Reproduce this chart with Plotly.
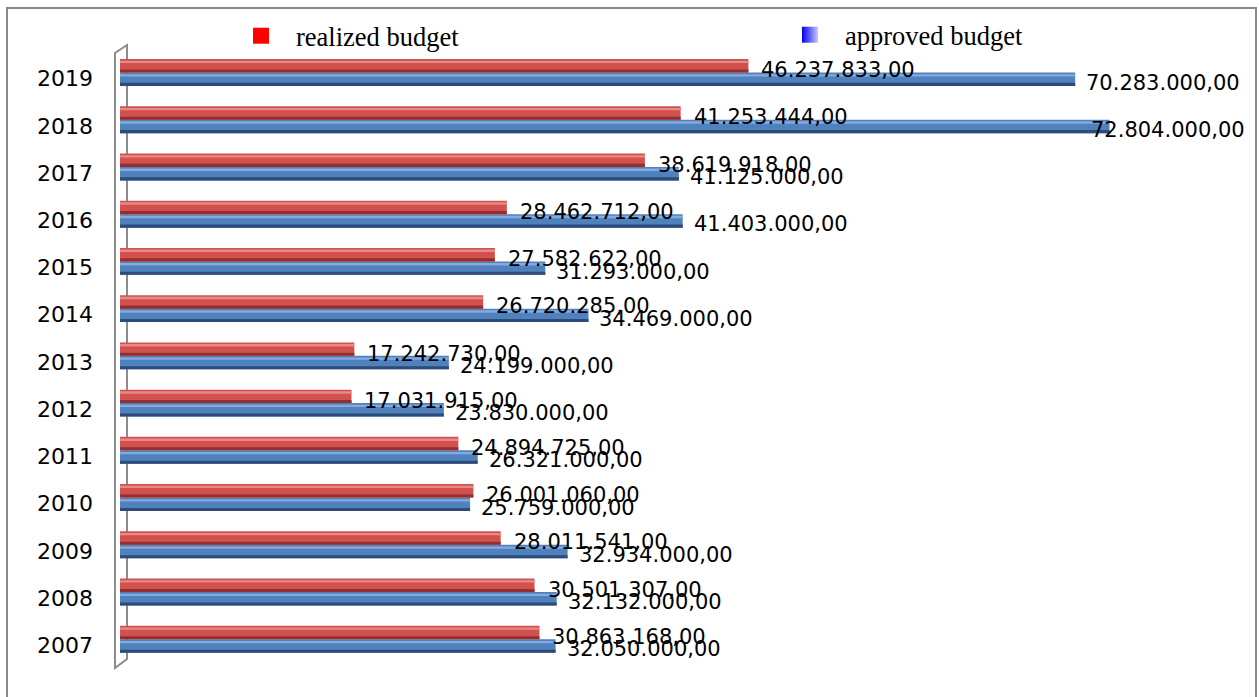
import plotly.graph_objects as go

years = ['2007', '2008', '2009', '2010', '2011', '2012', '2013',
         '2014', '2015', '2016', '2017', '2018', '2019']
realized = [30863168, 30501307, 28011541, 26001060, 24894725, 17031915, 17242730,
            26720285, 27582622, 28462712, 38619918, 41253444, 46237833]
approved = [32050000, 32132000, 32934000, 25759000, 26321000, 23830000, 24199000,
            34469000, 31293000, 41403000, 41125000, 72804000, 70283000]
series_names = ['realized budget', 'approved budget']


def eu(v):
    s = f"{v:,.2f}"
    return s.replace(',', 'X').replace('.', ',').replace('X', '.')


W, H = 1259, 697
ML, MR, MT, MB = 120, 11, 55, 28
PW = W - ML - MR
XMAX = 83.0e6

BW = 0.285
RED_OFF = 0.13
BLUE_OFF = -0.155

red = dict(main='#D2504D', light='#E58A87', dark='#93302E')
blue = dict(main='#4F81BD', light='#86AADD', dark='#2C4B78')

fig = go.Figure()


def add_series(vals, off, col):
    fig.add_trace(go.Bar(x=vals, y=years, orientation='h', offset=off, width=BW,
                         marker=dict(color=col['main'], line=dict(width=0)),
                         showlegend=False, hoverinfo='skip'))
    fig.add_trace(go.Bar(x=vals, y=years, orientation='h', offset=off + BW - 0.085, width=0.05,
                         marker=dict(color=col['light'], line=dict(width=0)),
                         showlegend=False, hoverinfo='skip'))
    fig.add_trace(go.Bar(x=vals, y=years, orientation='h', offset=off, width=0.065,
                         marker=dict(color=col['dark'], line=dict(width=0)),
                         showlegend=False, hoverinfo='skip'))


add_series(approved, BLUE_OFF, blue)
add_series(realized, RED_OFF, red)

# legend entries
fig.add_trace(go.Scatter(x=[None], y=[None], mode='markers', name=series_names[0],
                         marker=dict(symbol='square', size=16, color='#FF0000'),
                         legend='legend'))
fig.add_trace(go.Scatter(x=[None], y=[None], mode='markers', name=series_names[1],
                         marker=dict(symbol='square', size=16, color='#0000F0',
                                     gradient=dict(type='horizontal', color='#C8C8FF')),
                         legend='legend2'))

# data labels (y given as category index)
LABEL_W = 154
annotations = []
for vals, ysh, xsh in ((approved, -4, 9), (realized, 8.5, 11)):
    for i, v in enumerate(vals):
        end_px = v / XMAX * PW
        common = dict(y=i, xref='x', yref='y', text=eu(v), showarrow=False,
                      yanchor='middle', yshift=ysh,
                      font=dict(family='DejaVu Sans', size=21, color='#000000'))
        if end_px + xsh + LABEL_W > PW:
            annotations.append(dict(x=XMAX, xanchor='right', xshift=-1, **common))
        else:
            annotations.append(dict(x=v, xanchor='left', xshift=xsh, **common))


def px_x(p):
    return (p - ML) / PW


def px_y(p):
    return (H - MB - p) / (H - MT - MB)


shapes = [
    # 3D wall at the left
    dict(type='path', xref='paper', yref='paper', layer='below',
         path=(f"M {px_x(115)},{px_y(668)} L {px_x(115)},{px_y(53)} "
               f"L {px_x(127)},{px_y(45)} L {px_x(127)},{px_y(659)} Z"),
         line=dict(color='#8C8C8C', width=2), fillcolor='rgba(0,0,0,0)'),
    # outer chart border
    dict(type='rect', xref='paper', yref='paper', layer='below',
         x0=px_x(7), x1=px_x(1256), y0=px_y(8), y1=px_y(720),
         line=dict(color='#8A8A8A', width=2), fillcolor='rgba(0,0,0,0)'),
]

legend_font = dict(family='Liberation Serif', size=26.5, color='#000000')

fig.update_layout(
    width=W, height=H,
    margin=dict(l=ML, r=MR, t=MT, b=MB),
    paper_bgcolor='white', plot_bgcolor='white',
    barmode='overlay',
    xaxis=dict(range=[0, XMAX], visible=False, fixedrange=True),
    yaxis=dict(type='category', categoryorder='array', categoryarray=years,
               range=[-0.5, 12.5], showgrid=False, zeroline=False, showline=False,
               ticks='', ticklabelstandoff=26, fixedrange=True,
               tickfont=dict(family='DejaVu Sans', size=22, color='#000000')),
    legend=dict(x=px_x(226), y=px_y(36), xanchor='left', yanchor='middle',
                orientation='h', itemwidth=60, font=legend_font,
                bgcolor='rgba(0,0,0,0)', borderwidth=0),
    legend2=dict(x=px_x(775), y=px_y(35), xanchor='left', yanchor='middle',
                 orientation='h', itemwidth=60, font=legend_font,
                 bgcolor='rgba(0,0,0,0)', borderwidth=0),
    annotations=annotations,
    shapes=shapes,
)

fig.write_html("out.html", config={'displayModeBar': False},
               post_script="document.body.style.margin='0';")
